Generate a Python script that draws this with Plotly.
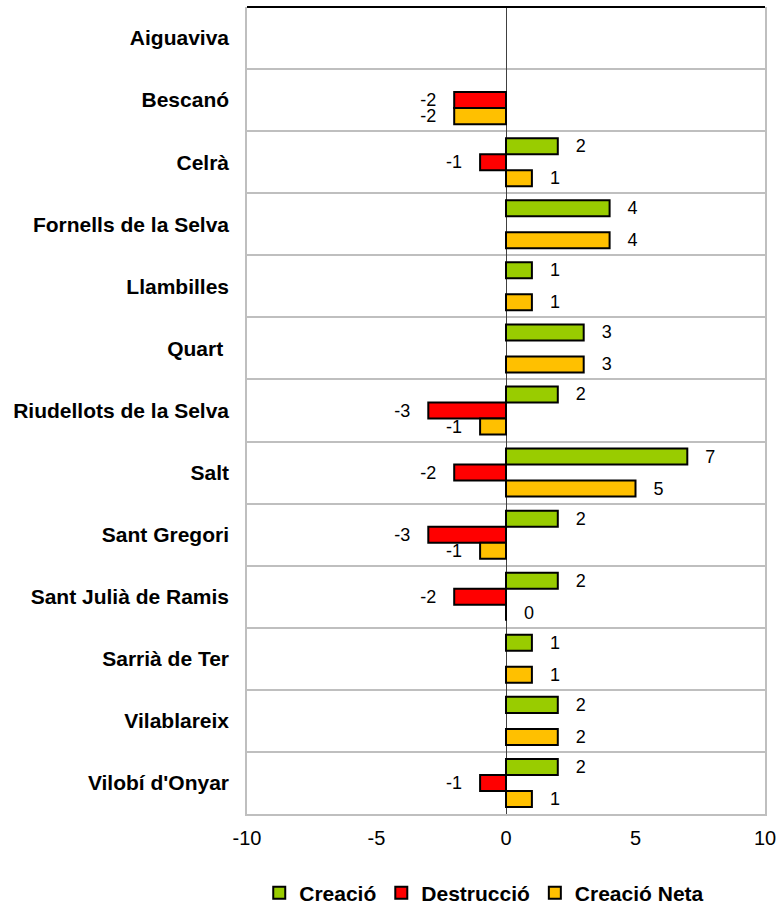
import plotly.graph_objects as go

categories = ["Aiguaviva", "Bescanó", "Celrà", "Fornells de la Selva", "Llambilles",
              "Quart ", "Riudellots de la Selva", "Salt", "Sant Gregori",
              "Sant Julià de Ramis", "Sarrià de Ter", "Vilablareix", "Vilobí d'Onyar"]
creacio = [None, None, 2, 4, 1, 3, 2, 7, 2, 2, 1, 2, 2]
destruccio = [None, -2, -1, None, None, None, -3, -2, -3, -2, None, None, -1]
creacio_neta = [None, -2, 1, 4, 1, 3, -1, 5, -1, 0, 1, 2, 1]
x_ticks = [-10, -5, 0, 5, 10]

series = [("Creació", creacio, "#99CC00"),
          ("Destrucció", destruccio, "#FF0000"),
          ("Creació Neta", creacio_neta, "#FFC000")]

PAD = "\u00a0\u00a0\u00a0"


def labels(vals):
    out = []
    for v in vals:
        if v is None:
            out.append("")
        elif v < 0:
            out.append(f"{v}{PAD}")
        else:
            out.append(f"{PAD}{v}")
    return out


FONT = "Arial, Liberation Sans, sans-serif"

fig = go.Figure()
for name, vals, color in series:
    fig.add_trace(go.Bar(
        y=categories, x=vals, name=name, orientation="h",
        marker=dict(color=color, line=dict(color="black", width=2)),
        text=labels(vals), textposition="outside", constraintext="none",
        cliponaxis=False,
        textfont=dict(family=FONT, size=18, color="black"),
        hoverinfo="x+y",
    ))

fig.update_layout(
    width=778, height=904,
    margin=dict(l=247, r=13, t=7, b=90, autoexpand=False),
    paper_bgcolor="white", plot_bgcolor="white",
    barmode="group", bargap=0.226, bargroupgap=0,
    font=dict(family=FONT, size=18, color="black"),
    legend=dict(orientation="h", x=0.458, xanchor="center",
                yref="container", y=0.012, yanchor="middle",
                font=dict(family=FONT, size=21, color="black", weight="bold"),
                traceorder="normal"),
    showlegend=True,
)

fig.update_xaxes(range=[-10, 10], tickvals=x_ticks, ticktext=[str(t) for t in x_ticks],
                 showgrid=False, zeroline=True, zerolinecolor="#404040", zerolinewidth=1,
                 showline=True, linecolor="#BFBFBF", linewidth=1.5, mirror=False,
                 automargin=False,
                 ticks="", ticklabelstandoff=5, tickfont=dict(size=20), fixedrange=True)
fig.update_yaxes(autorange="reversed", type="category", automargin=False,
                 showgrid=True, gridcolor="#BFBFBF", gridwidth=1.5, tickson="boundaries",
                 showline=True, linecolor="#BFBFBF", linewidth=1.5, mirror=True,
                 ticks="", ticklabelstandoff=12,
                 tickfont=dict(size=21, weight="bold"))

fig.add_shape(type="line", xref="paper", yref="paper", x0=0, x1=1, y0=1, y1=1,
              line=dict(color="black", width=2))

fig.write_html("out.html", config={"displayModeBar": False},
               post_script="document.body.style.margin='0';")
